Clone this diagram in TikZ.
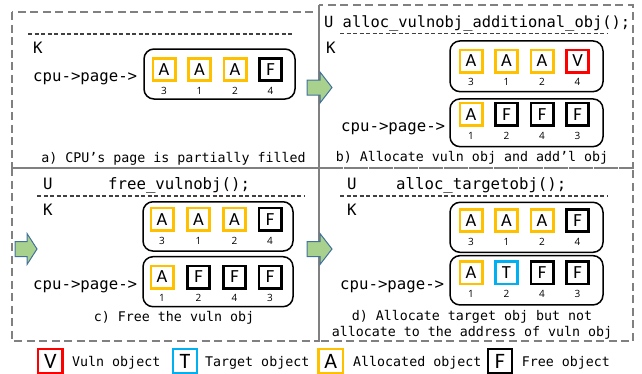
\documentclass[tikz,border=0pt]{standalone}
\usepackage{fontspec}
\setmainfont{Carlito}
\setmonofont{DejaVu Sans Mono}
\newfontfamily\slotfont{Open Sans}
\usepackage{tikz}
\usetikzlibrary{positioning}
\definecolor{allocyellow}{RGB}{255,192,0}
\definecolor{targetblue}{RGB}{0,176,240}
\definecolor{vulnred}{RGB}{255,0,0}
\definecolor{panelgray}{RGB}{128,128,128}
\definecolor{arrowgreen}{RGB}{169,209,142}
\definecolor{arrowblue}{RGB}{65,113,156}
\tikzstyle{panel} = [draw=panelgray, line width=2pt, dash pattern=on 8pt off 4.5pt]
\tikzstyle{blockarrow} = [fill=arrowgreen, draw=arrowblue, line width=1pt, line join=miter]
\tikzset{
 slotnum/.style
  = {inner sep=0pt, node distance=5pt, font=\slotfont\fontsize{10}{12}\selectfont},
 obj/.style
  = {draw, line width=2.6pt, inner sep=0pt, minimum size=22.4pt,
     font=\fontsize{18.5}{18.5}\selectfont},
 alloc/.style
  = {obj, draw=allocyellow},
 free/.style
  = {obj, draw=black},
 vuln/.style
  = {obj, draw=vulnred},
 target/.style
  = {obj, draw=targetblue},
 pagebox/.style
  = {draw, line width=1.5pt, rounded corners=10pt},
 code/.style
  = {inner sep=0pt, anchor=base west, font=\ttfamily\fontsize{15.7}{15.7}\selectfont},
 caption/.style
  = {inner sep=0pt, anchor=base, font=\ttfamily\fontsize{13.3}{13.3}\selectfont},
 sep/.style
  = {draw=black!75, line width=1.2pt, dash pattern=on 4pt off 2.5pt},
 legbox/.style
  = {draw, line width=2.2pt, inner sep=0pt, minimum size=24.4pt,
     font=\fontsize{22}{22}\selectfont},
}
\begin{document}
\begin{tikzpicture}[x=1pt, y=-1pt]
\useasboundingbox (0,0) rectangle (642,373);

% Panels
\draw[panel] (12,12) rectangle (319,168);
\draw[panel] (319,5) rectangle (633,168);
\draw[panel] (12,168) rectangle (319,341);
\draw[panel] (319,168) rectangle (633,341);

% Panel a
\draw[sep] (28,34) -- (294,34);
\node[code] (ka) at (33,53.3) {K};
\node[code] (cpua) at (33,81) {cpu->page->};
\node[pagebox, minimum width=151pt, minimum height=50pt] (pga) at (219.5,74) {};
\node[alloc] (a1) at (164,69.5) {A};
\node[alloc] (a2) at (199.5,69.5) {A};
\node[alloc] (a3) at (235,69.5) {A};
\node[free] (a4) at (270.5,69.5) {F};
\node[slotnum, below=of a1] (na1) {3};
\node[slotnum, below=of a2] (na2) {1};
\node[slotnum, below=of a3] (na3) {2};
\node[slotnum, below=of a4] (na4) {4};
\node[caption] (capa) at (173.5,162.5) {a) CPU’s page is partially filled};

% Panel b
\node[code, font=\ttfamily\fontsize{15.4}{15.4}\selectfont] (ub) at (324,27.3) {U alloc\_vulnobj\_additional\_obj();};
\draw[sep] (340,33.3) -- (607,33.3);
\node[code] (kb) at (326,53.3) {K};
\node[pagebox, minimum width=153pt, minimum height=50.7pt] (pgbu) at (526.5,66.3) {};
\node[alloc] (bu1) at (471,61) {A};
\node[alloc] (bu2) at (506.5,61) {A};
\node[alloc] (bu3) at (542,61) {A};
\node[vuln] (bu4) at (577.5,61) {V};
\node[slotnum, below=of bu1] (nbu1) {3};
\node[slotnum, below=of bu2] (nbu2) {1};
\node[slotnum, below=of bu3] (nbu3) {2};
\node[slotnum, below=of bu4] (nbu4) {4};
\node[code] (cpub) at (341,131) {cpu->page->};
\node[pagebox, minimum width=153pt, minimum height=47.7pt] (pgbl) at (526.5,122.8) {};
\node[alloc] (bl1) at (471,114.2) {A};
\node[free] (bl2) at (506.5,114.2) {F};
\node[free] (bl3) at (542,114.2) {F};
\node[free] (bl4) at (577.5,114.2) {F};
\node[slotnum, below=of bl1] (nbl1) {1};
\node[slotnum, below=of bl2] (nbl2) {2};
\node[slotnum, below=of bl3] (nbl3) {4};
\node[slotnum, below=of bl4] (nbl4) {3};
\node[caption] (capb) at (472,161.7) {b) Allocate vuln obj and add’l obj};

% Panel c
\node[code] (uc) at (43,189) {U};
\node[code] (callc) at (108,189) {free\_vulnobj();};
\draw[sep] (37,196) -- (304,196);
\node[code] (kc) at (43,215) {K};
\node[pagebox, minimum width=150pt, minimum height=49.3pt] (pgcu) at (218,226.4) {};
\node[alloc] (cu1) at (162,219.2) {A};
\node[alloc] (cu2) at (198.5,219.2) {A};
\node[alloc] (cu3) at (234.5,219.2) {A};
\node[free] (cu4) at (270,219.2) {F};
\node[slotnum, below=of cu1] (ncu1) {3};
\node[slotnum, below=of cu2] (ncu2) {1};
\node[slotnum, below=of cu3] (ncu3) {2};
\node[slotnum, below=of cu4] (ncu4) {4};
\node[code] (cpuc) at (33,289) {cpu->page->};
\node[pagebox, minimum width=150pt, minimum height=50pt] (pgcl) at (218,281.7) {};
\node[alloc] (cl1) at (162,277) {A};
\node[free] (cl2) at (198.5,277) {F};
\node[free] (cl3) at (234.5,277) {F};
\node[free] (cl4) at (270,277) {F};
\node[slotnum, below=of cl1] (ncl1) {1};
\node[slotnum, below=of cl2] (ncl2) {2};
\node[slotnum, below=of cl3] (ncl3) {4};
\node[slotnum, below=of cl4] (ncl4) {3};
\node[caption] (capc) at (174,321) {c) Free the vuln obj};

% Panel d
\node[code] (ud) at (347,189) {U};
\node[code] (calld) at (396,189) {alloc\_targetobj();};
\draw[sep] (340,196) -- (607,196);
\node[code] (kd) at (347,215) {K};
\node[pagebox, minimum width=153pt, minimum height=50pt] (pgdu) at (526.5,227.3) {};
\node[alloc] (du1) at (471,220.5) {A};
\node[alloc] (du2) at (506.5,220.5) {A};
\node[alloc] (du3) at (542,220.5) {A};
\node[free] (du4) at (577.5,220.5) {F};
\node[slotnum, below=of du1] (ndu1) {3};
\node[slotnum, below=of du2] (ndu2) {1};
\node[slotnum, below=of du3] (ndu3) {2};
\node[slotnum, below=of du4] (ndu4) {4};
\node[code] (cpud) at (340,289) {cpu->page->};
\node[pagebox, minimum width=153pt, minimum height=49.3pt] (pgdl) at (526.5,280.3) {};
\node[alloc] (dl1) at (471,272.8) {A};
\node[target] (dl2) at (506.5,272.8) {T};
\node[free] (dl3) at (542,272.8) {F};
\node[free] (dl4) at (577.5,272.8) {F};
\node[slotnum, below=of dl1] (ndl1) {1};
\node[slotnum, below=of dl2] (ndl2) {2};
\node[slotnum, below=of dl3] (ndl3) {4};
\node[slotnum, below=of dl4] (ndl4) {3};
\node[caption] (capd) at (472,320) {d) Allocate target obj but not};
\node[caption] (capdd) at (472,336.7) {allocate to the address of vuln obj};

% Green arrows
\draw[blockarrow, shift={(307,87.5)}] (0,-7.5) -- (13,-7.5) -- (13,-15.5) -- (25,0) -- (13,15.5) -- (13,7.5) -- (0,7.5) -- cycle;
\draw[blockarrow, shift={(15,249)}] (0,-7.5) -- (12,-7.5) -- (12,-15.5) -- (22,0) -- (12,15.5) -- (12,7.5) -- (0,7.5) -- cycle;
\draw[blockarrow, shift={(307,249)}] (0,-7.5) -- (13,-7.5) -- (13,-15.5) -- (25,0) -- (13,15.5) -- (13,7.5) -- (0,7.5) -- cycle;

% Legend
\node[legbox, draw=vulnred] (lv) at (50.3,361) {V};
\node[code, font=\ttfamily\fontsize{13.3}{13.3}\selectfont] (ltv) at (72,366.7) {Vuln object};
\node[legbox, draw=targetblue] (lt) at (185,361) {T};
\node[code, font=\ttfamily\fontsize{13.3}{13.3}\selectfont] (ltt) at (205,366.7) {Target object};
\node[legbox, draw=allocyellow] (la) at (330.7,361) {A};
\node[code, font=\ttfamily\fontsize{13.3}{13.3}\selectfont] (lta) at (353,366.7) {Allocated object};
\node[legbox, draw=black] (lf) at (500,361) {F};
\node[code, font=\ttfamily\fontsize{13.3}{13.3}\selectfont] (ltf) at (521.7,366.7) {Free object};

\end{tikzpicture}
\end{document}
